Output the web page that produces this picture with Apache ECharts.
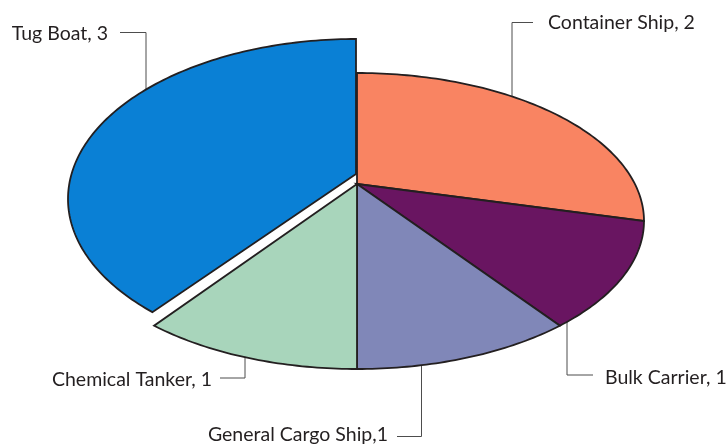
<!DOCTYPE html>
<html>
<head>
<meta charset="utf-8">
<script src="https://cdn.jsdelivr.net/npm/echarts@6/dist/echarts.min.js"></script>
<style>
  html, body { margin: 0; padding: 0; background: #fff; }
  #chart { width: 727px; height: 445px; }
</style>
</head>
<body>
<div id="chart"></div>
<script>
// slices, clockwise from 12 o'clock
const categories = ['Container Ship', 'Bulk Carrier', 'General Cargo Ship', 'Chemical Tanker', 'Tug Boat'];
const values = [2, 1, 1, 1, 3];
const labelTexts = ['Container Ship, 2', 'Bulk Carrier, 1', 'General Cargo Ship,1', 'Chemical Tanker, 1', 'Tug Boat, 3'];

const colors = ['#f98462', '#691561', '#8087b8', '#a8d5bb', '#0a80d5'];
const explodeIndex = 4;

// tilted pie: apex + ellipse rim
const shape = { ax: 357, ay: 184, cx: 357, cy: 221, rx: 287, ry: 148 };
const explodedShape = { ax: 356, ay: 174, cx: 356, cy: 199, rx: 288, ry: 160 };

// leader line layout per slice
const labelLayout = [
    { lineX: 512, lineY: 22.5, endX: 533, textX: 548, textY: 23, align: 'left' },
    { lineX: 567, lineY: 375, endX: 593, textX: 605, textY: 377.5, align: 'left' },
    { lineX: 421.5, lineY: 436.5, endX: 397, textX: 388, textY: 434.5, align: 'right' },
    { lineX: 245, lineY: 378, endX: 220, textX: 212, textY: 379.5, align: 'right' },
    { lineX: 146, lineY: 32.5, endX: 120, textX: 108, textY: 33.5, align: 'right' }
];

const total = values.reduce((a, b) => a + b, 0);
const starts = [];
let acc = 0;
values.forEach(v => { starts.push(acc); acc += v; });

function rimPoint(s, deg) {
    let r = deg * Math.PI / 180;
    return [s.cx + s.rx * Math.sin(r), s.cy - s.ry * Math.cos(r)];
}

function renderItem(params, api) {
    let i = params.dataIndex;
    let v = api.value(0);
    let s = i === explodeIndex ? explodedShape : shape;
    let a0 = starts[i] / total * 360;
    let a1 = a0 + v / total * 360;
    let pts = [[s.ax, s.ay]];
    for (let a = a0; a < a1; a += 1) pts.push(rimPoint(s, a));
    pts.push(rimPoint(s, a1));

    let lay = labelLayout[i];
    let k = (lay.lineX - s.cx) / s.rx;
    let h = s.ry * Math.sqrt(Math.max(0, 1 - k * k));
    let anchorY = lay.lineY < s.ay ? s.cy - h : s.cy + h;

    return {
        type: 'group',
        children: [
            {
                type: 'polygon',
                z2: i === explodeIndex ? 10 : 1,
                shape: { points: pts },
                style: { fill: colors[i], stroke: '#231f20', lineWidth: 1.8, lineJoin: 'miter' }
            },
            {
                type: 'polyline',
                shape: { points: [[lay.lineX, anchorY], [lay.lineX, lay.lineY], [lay.endX, lay.lineY]] },
                style: { stroke: '#4d4d4d', lineWidth: 1, fill: null }
            },
            {
                type: 'text',
                x: lay.textX,
                y: lay.textY,
                style: {
                    text: labelTexts[i],
                    fill: '#231f20',
                    font: '19.5px Lato',
                    align: lay.align,
                    verticalAlign: 'middle'
                }
            }
        ]
    };
}

let chart = echarts.init(document.getElementById('chart'));
chart.setOption({
    animation: false,
    backgroundColor: '#ffffff',
    series: [{
        type: 'custom',
        coordinateSystem: 'none',
        renderItem: renderItem,
        data: values.map((v, i) => ({ name: categories[i], value: [v] }))
    }]
});
</script>
</body>
</html>
